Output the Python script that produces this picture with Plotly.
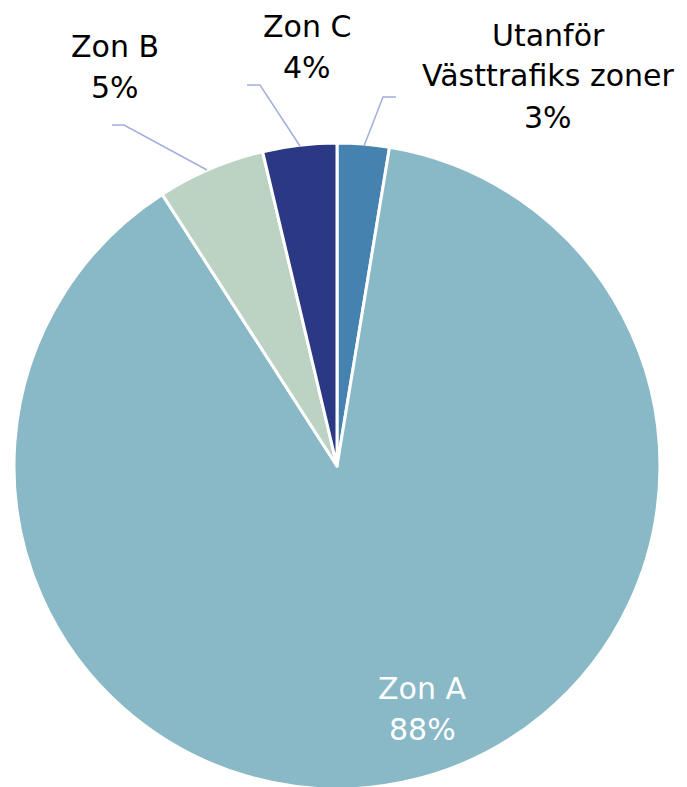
import plotly.graph_objects as go

labels = ["Utanför Västtrafiks zoner", "Zon A", "Zon B", "Zon C"]
label_lines = [["Utanför", "Västtrafiks zoner"], ["Zon A"], ["Zon B"], ["Zon C"]]
values = [2.6, 88.3, 5.4, 3.7]
colors = ["#4682B0", "#89B8C6", "#BCD3C3", "#2B3884"]

W, H = 687, 787
OFF = 8  # page body margin offset of the plot div
total = sum(values)
pct = [f"{round(v / total * 100)}%" for v in values]

fig = go.Figure(go.Pie(
    labels=labels,
    values=values,
    sort=False,
    direction="clockwise",
    rotation=0,
    marker=dict(colors=colors, line=dict(color="white", width=3)),
    textinfo="none",
    hoverinfo="label+percent",
    domain=dict(x=[6 / W, 652 / W], y=[6 / H, 652 / H]),
    showlegend=False,
))

# label block centre x and first-line baseline (screen pixels), line pitch
label_pos = [(548, 47), (422, 700), (115, 59), (307, 38)]
label_col = ["black", "white", "black", "black"]
pitch = 41
leaders = [
    [(364, 146), (383, 97), (396, 97)],
    None,
    [(207, 170), (124, 125), (112, 125)],
    [(300, 146), (260, 85), (247, 85)],
]

font_family = "DejaVu Sans, sans-serif"
fsize = 30
for lines, p, (px, py), c in zip(label_lines, pct, label_pos, label_col):
    for i, t in enumerate(lines + [p]):
        base = py + i * pitch
        fig.add_annotation(
            x=(px - OFF) / W, y=1 - (base - 20) / H, xref="paper", yref="paper",
            text=t, showarrow=False,
            xanchor="center", yanchor="middle",
            font=dict(family=font_family, size=fsize, color=c),
        )

for pts in leaders:
    if not pts:
        continue
    path = "M " + " L ".join(f"{(x - OFF) / W},{1 - (y - OFF) / H}" for x, y in pts)
    fig.add_shape(type="path", path=path, xref="paper", yref="paper",
                  line=dict(color="#A3AEDE", width=1.5))

fig.update_layout(
    width=W, height=H,
    margin=dict(l=0, r=0, t=0, b=0),
    paper_bgcolor="white",
    plot_bgcolor="white",
)

fig.write_html("out.html")
